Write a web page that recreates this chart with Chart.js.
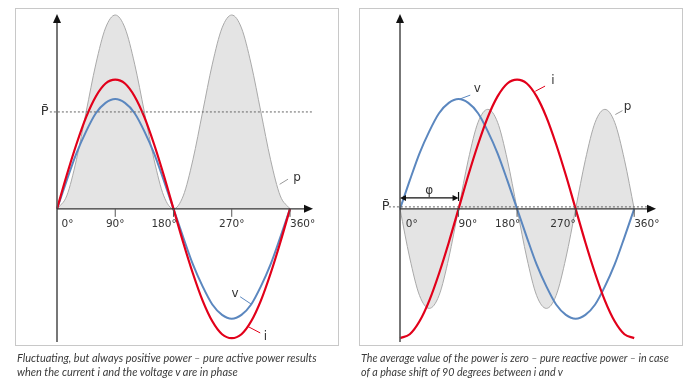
<!DOCTYPE html>
<html>
<head>
<meta charset="utf-8">
<script src="https://cdn.jsdelivr.net/npm/chart.js@4"></script>
<style>
  body { margin: 0; width: 690px; height: 391px; background: #fff; position: relative; overflow: hidden; }
  .panel { position: absolute; top: 8px; width: 322px; height: 336px; border: 1px solid #c8c8c8; }
  canvas { position: absolute; top: 0; }
  .caption { position: absolute; top: 351px; font: italic 11px Lato, sans-serif; line-height: 14px; color: #3a3a3a; white-space: nowrap; }
</style>
</head>
<body>
<div class="panel" style="left:15px"></div>
<div class="panel" style="left:359px"></div>
<canvas id="inPhase" width="345" height="391" style="left:0"></canvas>
<canvas id="shifted" width="345" height="391" style="left:345px"></canvas>
<div class="caption" style="left:17px">Fluctuating, but always positive power – pure active power results<br>when the current i and the voltage v are in phase</div>
<div class="caption" style="left:361px; font-size:10.7px">The average value of the power is zero – pure reactive power – in case<br>of a phase shift of 90 degrees between i and v</div>
<script>
// Angle samples (degrees), read every 15°
const degrees = [0, 15, 30, 45, 60, 75, 90, 105, 120, 135, 150, 165, 180,
                 195, 210, 225, 240, 255, 270, 285, 300, 315, 330, 345, 360];
const tickAngles = [90, 180, 270, 360];

// Left chart: i and v in phase
const leftCurrent = [0, 0.26, 0.5, 0.71, 0.87, 0.97, 1.0, 0.97, 0.87, 0.71, 0.5, 0.26, 0,
                     -0.26, -0.5, -0.71, -0.87, -0.97, -1.0, -0.97, -0.87, -0.71, -0.5, -0.26, 0];
const leftVoltage = [0, 0.22, 0.43, 0.6, 0.74, 0.82, 0.85, 0.82, 0.74, 0.6, 0.43, 0.22, 0,
                     -0.22, -0.43, -0.6, -0.74, -0.82, -0.85, -0.82, -0.74, -0.6, -0.43, -0.22, 0];
const leftPower = [0, 0.1, 0.38, 0.75, 1.12, 1.4, 1.5, 1.4, 1.12, 0.75, 0.38, 0.1, 0,
                   0.1, 0.38, 0.75, 1.12, 1.4, 1.5, 1.4, 1.12, 0.75, 0.38, 0.1, 0];
const leftAverage = 0.75;

// Right chart: 90° phase shift
const rightCurrent = [-1.0, -0.97, -0.87, -0.71, -0.5, -0.26, 0, 0.26, 0.5, 0.71, 0.87, 0.97, 1.0,
                      0.97, 0.87, 0.71, 0.5, 0.26, 0, -0.26, -0.5, -0.71, -0.87, -0.97, -1.0];
const rightVoltage = [0, 0.22, 0.43, 0.6, 0.74, 0.82, 0.85, 0.82, 0.74, 0.6, 0.43, 0.22, 0,
                      -0.22, -0.43, -0.6, -0.74, -0.82, -0.85, -0.82, -0.74, -0.6, -0.43, -0.22, 0];
const rightPower = [0, -0.38, -0.67, -0.77, -0.67, -0.38, 0, 0.38, 0.67, 0.77, 0.67, 0.38, 0,
                    -0.38, -0.67, -0.77, -0.67, -0.38, 0, 0.38, 0.67, 0.77, 0.67, 0.38, 0];
const rightAverage = 0;

const RED = '#e2001a';
const BLUE = '#5b87bf';
const INK = '#333';

function points(values) {
  return degrees.map((d, k) => ({ x: d, y: values[k] }));
}

function arrowHead(ctx, x, y, dir) {
  ctx.beginPath();
  if (dir === 'up') {
    ctx.moveTo(x, y); ctx.lineTo(x - 4, y + 9); ctx.lineTo(x + 4, y + 9);
  } else {
    ctx.moveTo(x, y); ctx.lineTo(x - 9, y - 4); ctx.lineTo(x - 9, y + 4);
  }
  ctx.closePath();
  ctx.fill();
}

// Draws axes, arrows, tick labels and curve labels through the chart scales
const sketchAxes = {
  id: 'sketchAxes',
  afterDatasetsDraw(chart, args, opts) {
    const { ctx } = chart;
    const sx = chart.scales.x, sy = chart.scales.y;
    const X = v => sx.getPixelForValue(v);
    const Y = v => sy.getPixelForValue(v);
    ctx.save();

    // average power, dotted
    ctx.strokeStyle = '#666';
    ctx.lineWidth = 1;
    ctx.setLineDash([2, 2]);
    ctx.beginPath();
    ctx.moveTo(X(opts.avg.from), Y(opts.avg.value) - opts.avg.lift);
    ctx.lineTo(X(opts.avg.to), Y(opts.avg.value) - opts.avg.lift);
    ctx.stroke();
    ctx.setLineDash([]);
    ctx.fillStyle = INK;
    ctx.font = '13px "DejaVu Sans", sans-serif';
    ctx.textAlign = 'center';
    ctx.textBaseline = 'middle';
    ctx.fillText('P\u0304', X(opts.avg.labelAt), Y(opts.avg.value) - opts.avg.lift);

    // y axis
    ctx.strokeStyle = '#555';
    ctx.lineWidth = 1.6;
    ctx.beginPath();
    ctx.moveTo(X(0), Y(sy.min));
    ctx.lineTo(X(0), Y(sy.max) + 6);
    ctx.stroke();
    ctx.fillStyle = '#111';
    arrowHead(ctx, X(0), Y(sy.max) - 1, 'up');

    // x axis
    ctx.strokeStyle = '#333';
    ctx.lineWidth = 1.4;
    ctx.beginPath();
    ctx.moveTo(X(0), Y(0));
    ctx.lineTo(X(sx.max) - 6, Y(0));
    ctx.stroke();
    arrowHead(ctx, X(sx.max) + 1, Y(0), 'right');

    // ticks
    ctx.strokeStyle = '#555';
    ctx.lineWidth = 1;
    tickAngles.forEach(a => {
      ctx.beginPath();
      ctx.moveTo(X(a), Y(0));
      ctx.lineTo(X(a), Y(0) + 8);
      ctx.stroke();
    });

    // tick labels
    ctx.fillStyle = INK;
    ctx.font = '10.5px "DejaVu Sans", sans-serif';
    opts.tickLabels.forEach(t => {
      ctx.textAlign = t.align;
      ctx.fillText(t.text, X(t.at), Y(0) + 15);
    });

    // curve labels with leader lines
    ctx.font = '12px "DejaVu Sans", sans-serif';
    ctx.textAlign = 'center';
    opts.curveLabels.forEach(l => {
      ctx.strokeStyle = l.color;
      ctx.lineWidth = 1;
      ctx.beginPath();
      ctx.moveTo(X(l.line[0][0]), Y(l.line[0][1]));
      ctx.lineTo(X(l.line[1][0]), Y(l.line[1][1]));
      ctx.stroke();
      ctx.fillStyle = INK;
      ctx.fillText(l.text, X(l.at[0]), Y(l.at[1]));
    });

    // phase shift arrow
    if (opts.phi) {
      const p = opts.phi;
      const y = Y(p.y);
      ctx.strokeStyle = '#111';
      ctx.fillStyle = '#111';
      ctx.lineWidth = 1.2;
      ctx.beginPath();
      ctx.moveTo(X(p.from) + 3, y);
      ctx.lineTo(X(p.to) - 3, y);
      ctx.moveTo(X(p.to), y - 6);
      ctx.lineTo(X(p.to), y + 3);
      ctx.stroke();
      ctx.beginPath();
      ctx.moveTo(X(p.from), y); ctx.lineTo(X(p.from) + 6, y - 3); ctx.lineTo(X(p.from) + 6, y + 3);
      ctx.closePath(); ctx.fill();
      ctx.beginPath();
      ctx.moveTo(X(p.to), y); ctx.lineTo(X(p.to) - 6, y - 3); ctx.lineTo(X(p.to) - 6, y + 3);
      ctx.closePath(); ctx.fill();
      ctx.fillStyle = INK;
      ctx.font = '12px "DejaVu Sans", sans-serif';
      ctx.textAlign = 'center';
      ctx.fillText('\u03c6', X((p.from + p.to) / 2), y - 7);
    }
    ctx.restore();
  }
};

function makeChart(id, current, voltage, power, padding, xMax, extra) {
  return new Chart(document.getElementById(id), {
    type: 'line',
    data: {
      datasets: [
        { data: points(current), borderColor: RED, borderWidth: 2.2, order: 1 },
        { data: points(voltage), borderColor: BLUE, borderWidth: 2, order: 2 },
        { data: points(power), borderColor: '#a9a9a9', borderWidth: 1,
          backgroundColor: '#e4e4e4', fill: 'origin', order: 3 }
      ]
    },
    options: {
      responsive: false,
      animation: false,
      events: [],
      layout: { padding },
      elements: {
        point: { radius: 0 },
        line: { cubicInterpolationMode: 'monotone' }
      },
      datasets: { line: { clip: false } },
      scales: {
        x: { type: 'linear', display: false, min: 0, max: xMax },
        y: { type: 'linear', display: false, min: -1.03, max: 1.5 }
      },
      plugins: {
        legend: { display: false },
        tooltip: { enabled: false },
        sketchAxes: extra
      }
    },
    plugins: [sketchAxes]
  });
}

makeChart('inPhase', leftCurrent, leftVoltage, leftPower,
  { left: 57, right: 33, top: 15, bottom: 49 }, 394, {
    avg: { value: leftAverage, from: -11, to: 394, labelAt: -19, lift: 0 },
    tickLabels: [
      { text: '0°', at: 7, align: 'left' },
      { text: '90°', at: 90, align: 'center' },
      { text: '180°', at: 185, align: 'right' },
      { text: '270°', at: 270, align: 'center' },
      { text: '360°', at: 360, align: 'left' }
    ],
    curveLabels: [
      { text: 'p', at: [371, 0.24], line: [[344, 0.19], [357, 0.23]], color: '#999' },
      { text: 'v', at: [275, -0.66], line: [[283, -0.68], [301, -0.74]], color: BLUE },
      { text: 'i', at: [322, -0.99], line: [[295, -0.91], [314, -0.96]], color: RED }
    ],
    phi: null
  });

makeChart('shifted', rightCurrent, rightVoltage, rightPower,
  { left: 55, right: 35, top: 15, bottom: 49 }, 392, {
    avg: { value: rightAverage, from: -17, to: 388, labelAt: -22, lift: 2 },
    tickLabels: [
      { text: '0°', at: 9, align: 'left' },
      { text: '90°', at: 90, align: 'left' },
      { text: '180°', at: 185, align: 'right' },
      { text: '270°', at: 270, align: 'right' },
      { text: '360°', at: 360, align: 'left' }
    ],
    curveLabels: [
      { text: 'v', at: [119, 0.93], line: [[92, 0.85], [108, 0.88]], color: BLUE },
      { text: 'i', at: [235, 0.99], line: [[208, 0.91], [223, 0.95]], color: RED },
      { text: 'p', at: [350, 0.79], line: [[331, 0.73], [342, 0.76]], color: '#999' }
    ],
    phi: { from: 0, to: 90, y: 0.085 }
  });
</script>
</body>
</html>
